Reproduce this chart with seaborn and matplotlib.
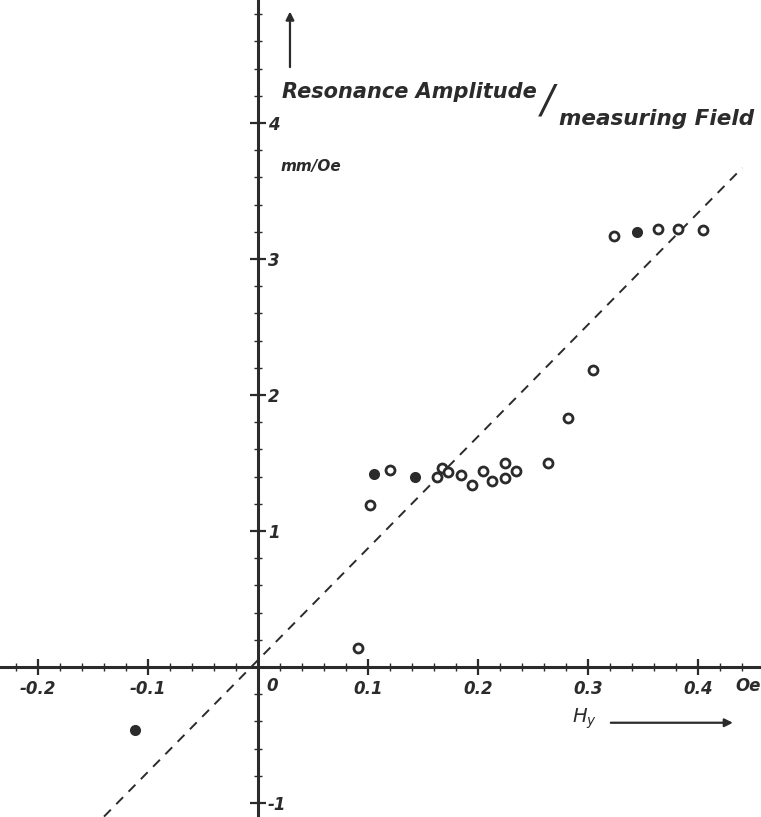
import numpy as np
import pandas as pd
import seaborn as sns
import matplotlib.pyplot as plt
from matplotlib.ticker import MultipleLocator

hy = [-0.112, 0.091, 0.102, 0.105, 0.120, 0.143, 0.163, 0.167, 0.173, 0.184,
      0.194, 0.204, 0.213, 0.224, 0.224, 0.234, 0.263, 0.282, 0.304,
      0.323, 0.344, 0.363, 0.382, 0.404]
amp = [-0.46, 0.14, 1.19, 1.42, 1.45, 1.40, 1.40, 1.46, 1.43, 1.41,
       1.34, 1.44, 1.37, 1.50, 1.39, 1.44, 1.50, 1.83, 2.18,
       3.17, 3.20, 3.22, 3.22, 3.21]
filled = [True, False, False, True, False, True, False, False, False, False,
          False, False, False, False, False, False, False, False, False,
          False, True, False, False, False]

# dashed straight line through the data
fit_x = [-0.14, 0.44]
fit_y = [-1.10, 3.67]

xtick_vals = [-0.2, -0.1, 0.1, 0.2, 0.3, 0.4]
xtick_labels = ["-0.2", "-0.1", "0.1", "0.2", "0.3", "0.4"]
ytick_vals = [-1, 1, 2, 3, 4]
ytick_labels = ["-1", "1", "2", "3", "4"]

ink = "#2b2b2b"
sns.set_style("white")
plt.rcParams["font.family"] = ["DejaVu Sans"]
fnt = dict(style="italic", weight="bold", color=ink)

fig = plt.figure(figsize=(7.61, 8.17), dpi=100)
ax = fig.add_axes([0, 0, 1, 1])

df = pd.DataFrame({"hy": hy, "amp": amp, "filled": filled})
sns.lineplot(x=fit_x, y=fit_y, ax=ax, color=ink, lw=1.4,
             linestyle=(0, (5, 4)))
sns.scatterplot(data=df[~df.filled], x="hy", y="amp", ax=ax, marker="o", s=42,
                facecolor="white", edgecolor=ink, linewidth=2.0, zorder=5)
sns.scatterplot(data=df[df.filled], x="hy", y="amp", ax=ax, marker="o", s=42,
                color=ink, edgecolor=ink, linewidth=1.5, zorder=5)

ax.set_xlim(-0.2345, 0.457)
ax.set_ylim(-1.103, 4.904)

# axes crossing at the origin
ax.spines["left"].set_visible(False)
ax.spines["top"].set_visible(False)
ax.spines["right"].set_position(("data", 0))
ax.spines["bottom"].set_position(("data", 0))
for s in ("right", "bottom"):
    ax.spines[s].set_color(ink)
    ax.spines[s].set_linewidth(2.2)
ax.yaxis.set_ticks_position("right")
ax.xaxis.set_ticks_position("bottom")

ax.set_xticks(xtick_vals, xtick_labels)
ax.set_yticks(ytick_vals, ytick_labels)
ax.xaxis.set_minor_locator(MultipleLocator(0.02))
ax.yaxis.set_minor_locator(MultipleLocator(0.2))
ax.tick_params(which="major", direction="inout", length=12, width=1.6,
               color=ink, labelcolor=ink, labelsize=12)
ax.tick_params(which="minor", direction="inout", length=6, width=1.0, color=ink)
ax.tick_params(axis="y", pad=1)
for lab in ax.get_xticklabels() + ax.get_yticklabels():
    lab.set_style("italic")
    lab.set_weight("bold")
ax.set_xlabel("")
ax.set_ylabel("")

ax.text(0.008, -0.07, "0", ha="left", va="top", fontsize=12, **fnt)
ax.text(0.434, -0.07, "Oe", ha="left", va="top", fontsize=12, **fnt)

# axis titles
ax.text(0.022, 4.23, "Resonance Amplitude", ha="left", va="center", fontsize=15, **fnt)
ax.text(0.2625, 4.16, "/", ha="center", va="center", fontsize=28, weight="normal",
        style="italic", color=ink)
ax.text(0.2735, 4.03, "measuring Field", ha="left", va="center", fontsize=15.5, **fnt)
ax.text(0.02, 3.68, "mm/Oe", ha="left", va="center", fontsize=11, **fnt)
ax.annotate("", xy=(0.029, 4.84), xytext=(0.029, 4.39),
            arrowprops=dict(arrowstyle="-|>", color=ink, lw=1.6, mutation_scale=12))

ax.text(0.285, -0.38, "$H_y$", ha="left", va="center", fontsize=14, **fnt)
ax.annotate("", xy=(0.434, -0.41), xytext=(0.318, -0.41),
            arrowprops=dict(arrowstyle="-|>", color=ink, lw=1.6, mutation_scale=12))

fig.savefig("out.png", dpi=100)
